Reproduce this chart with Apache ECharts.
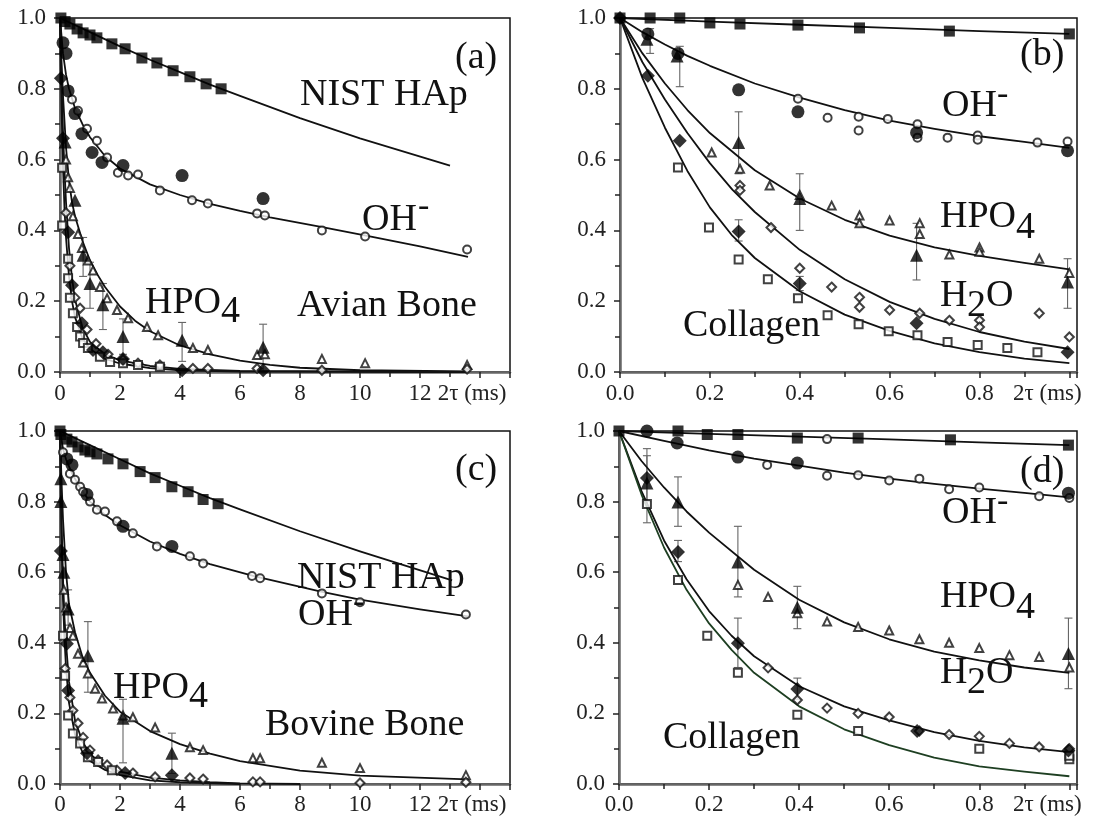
<!DOCTYPE html>
<html><head><meta charset="utf-8">
<script src="https://cdn.jsdelivr.net/npm/echarts@6/dist/echarts.min.js"></script>
<style>html,body{margin:0;padding:0;background:#fff}#c{width:1094px;height:821px}</style>
</head><body><div id="c"></div>
<script>
// ---------------- DATA ----------------
const X_UNIT = '2τ (ms)';
// Panel (a) Avian bone, long range
const A_NIST_PTS = [[0.03,1.0],[0.17,0.99],[0.33,0.983],[0.57,0.969],[0.77,0.958],[1.0,0.952],[1.23,0.944],[1.73,0.927],[2.17,0.913],[2.73,0.887],[3.23,0.873],[3.77,0.851],[4.33,0.834],[4.87,0.814],[5.37,0.8]];
const A_NIST_FIT = [[0,1.0],[1,0.96],[2,0.92],[3,0.882],[4,0.847],[5,0.812],[6,0.78],[8,0.717],[10,0.66],[13,0.583]];
const A_OH_FILLED = [[0.1,0.93],[0.2,0.9],[0.27,0.794],[0.5,0.73],[0.73,0.673],[1.07,0.62],[1.4,0.592],[2.1,0.583],[4.07,0.555],[6.77,0.49]];
const A_OH_OPEN = [[0.4,0.77],[0.6,0.738],[0.9,0.687],[1.23,0.653],[1.57,0.606],[1.93,0.563],[2.27,0.555],[2.6,0.558],[3.33,0.513],[4.4,0.485],[4.93,0.476],[6.57,0.448],[6.83,0.442],[8.73,0.4],[10.17,0.383],[13.57,0.346]];
const A_OH_FIT = [[0,1.0],[0.1,0.9],[0.2,0.84],[0.3,0.8],[0.5,0.745],[0.75,0.7],[1,0.663],[1.5,0.61],[2,0.575],[3,0.53],[4,0.5],[5,0.475],[6,0.455],[7,0.437],[8.7,0.41],[10.2,0.385],[12,0.355],[13.6,0.325]];
const A_HPO_FILLED = [[0.17,0.65],[0.5,0.485],[0.77,0.33],[1.0,0.25],[1.43,0.19],[2.1,0.1],[4.07,0.09],[6.77,0.07]];
const A_HPO_OPEN = [[0.2,0.6],[0.27,0.55],[0.33,0.52],[0.43,0.44],[0.6,0.39],[0.73,0.35],[0.93,0.315],[1.1,0.287],[1.33,0.24],[1.57,0.208],[1.9,0.175],[2.27,0.152],[2.9,0.127],[3.27,0.104],[4.43,0.068],[4.93,0.062],[6.57,0.048],[6.83,0.05],[8.73,0.037],[10.17,0.025],[13.57,0.02]];
const A_HPO_FIT = [[0,1.0],[0.05,0.88],[0.1,0.78],[0.2,0.635],[0.3,0.54],[0.4,0.48],[0.5,0.44],[0.75,0.37],[1,0.315],[1.25,0.275],[1.5,0.24],[2,0.185],[2.5,0.145],[3,0.115],[4,0.075],[5,0.05],[6,0.032],[7,0.02],[8,0.012],[10,0.005],[13.6,0.002]];
const A_HPO_ERR = [[0.77,0.27,0.38],[1.0,0.18,0.31],[1.43,0.12,0.25],[2.1,0.05,0.15],[4.07,0.03,0.14],[6.77,0.0,0.135]];
const A_H2O_FILLED = [[0.03,0.83],[0.1,0.66],[0.27,0.395],[0.4,0.245],[0.73,0.138],[1.1,0.062],[1.43,0.056],[2.1,0.037],[4.07,0.005],[6.77,0.005]];
const A_H2O_OPEN = [[0.2,0.45],[0.33,0.3],[0.5,0.21],[0.67,0.18],[0.9,0.12],[1.2,0.08],[1.6,0.05],[2.1,0.035],[2.6,0.025],[3.33,0.02],[4.43,0.01],[4.93,0.01],[6.57,0.01],[8.73,0.005],[13.57,0.008]];
const A_COL_OPEN = [[0.07,0.577],[0.07,0.414],[0.27,0.32],[0.27,0.265],[0.33,0.21],[0.43,0.166],[0.57,0.127],[0.67,0.1],[0.77,0.082],[0.93,0.068],[1.33,0.043],[1.67,0.028],[2.1,0.025],[2.6,0.02],[3.33,0.015]];
const A_H2O_FIT = [[0,1.0],[0.05,0.82],[0.1,0.68],[0.15,0.57],[0.2,0.48],[0.3,0.35],[0.4,0.265],[0.5,0.205],[0.75,0.125],[1,0.085],[1.5,0.05],[2,0.033],[3,0.017],[4,0.009],[6,0.003],[13.6,0.0]];
const A_COL_FIT = [[0,1.0],[0.05,0.75],[0.1,0.58],[0.15,0.46],[0.2,0.38],[0.3,0.27],[0.4,0.2],[0.5,0.155],[0.75,0.095],[1,0.065],[1.5,0.037],[2,0.024],[3,0.011],[4,0.005],[6,0.001],[13.6,0.0]];

// Panel (b) Avian bone, short range
const B_NIST_PTS = [[0,1.0],[0.067,1.0],[0.133,1.0],[0.2,0.986],[0.267,0.983],[0.396,0.98],[0.533,0.972],[0.733,0.963],[1.0,0.955]];
const B_NIST_FIT = [[0,1.0],[0.2,0.99],[0.4,0.981],[0.6,0.972],[0.8,0.963],[1.0,0.955]];
const B_OH_FILLED = [[0.062,0.955],[0.129,0.9],[0.264,0.797],[0.396,0.735],[0.66,0.676],[0.996,0.625]];
const B_OH_OPEN = [[0.396,0.772],[0.462,0.718],[0.531,0.721],[0.531,0.682],[0.596,0.715],[0.662,0.70],[0.662,0.662],[0.729,0.662],[0.796,0.668],[0.796,0.656],[0.929,0.648],[0.996,0.651]];
const B_OH_FIT = [[0,1.0],[0.05,0.96],[0.1,0.925],[0.15,0.893],[0.2,0.865],[0.3,0.815],[0.4,0.775],[0.5,0.74],[0.6,0.71],[0.7,0.687],[0.8,0.666],[0.9,0.65],[1.0,0.633]];
const B_OH_ERR = [[0.067,0.9,0.97],[0.133,0.806,0.92]];
const B_HPO_FILLED = [[0.06,0.94],[0.127,0.893],[0.264,0.648],[0.4,0.49],[0.66,0.33],[0.996,0.254]];
const B_HPO_OPEN = [[0.204,0.62],[0.267,0.574],[0.333,0.527],[0.4,0.5],[0.471,0.47],[0.533,0.442],[0.533,0.42],[0.6,0.428],[0.667,0.42],[0.667,0.39],[0.733,0.332],[0.8,0.352],[0.8,0.34],[0.933,0.32],[1.0,0.28]];
const B_HPO_FIT = [[0,1.0],[0.05,0.9],[0.1,0.815],[0.15,0.74],[0.2,0.675],[0.3,0.57],[0.4,0.49],[0.5,0.43],[0.6,0.385],[0.7,0.352],[0.8,0.328],[0.9,0.308],[1.0,0.29]];
const B_HPO_ERR = [[0.264,0.56,0.735],[0.4,0.40,0.56],[0.66,0.26,0.42],[0.996,0.18,0.32]];
const B_H2O_FILLED = [[0,1.0],[0.062,0.837],[0.133,0.653],[0.264,0.397],[0.4,0.25],[0.66,0.138],[0.996,0.056]];
const B_H2O_OPEN = [[0.267,0.527],[0.267,0.513],[0.336,0.408],[0.4,0.293],[0.471,0.24],[0.533,0.211],[0.533,0.183],[0.6,0.175],[0.667,0.166],[0.733,0.146],[0.8,0.146],[0.8,0.127],[0.933,0.166],[1.0,0.099]];
const B_H2O_FIT = [[0,1.0],[0.05,0.875],[0.1,0.77],[0.15,0.675],[0.2,0.59],[0.25,0.515],[0.3,0.452],[0.4,0.345],[0.5,0.262],[0.6,0.198],[0.7,0.15],[0.8,0.113],[0.9,0.086],[1.0,0.065]];
const B_H2O_ERR = [[0.264,0.37,0.43],[0.4,0.23,0.27]];
const B_COL_OPEN = [[0.129,0.578],[0.198,0.408],[0.264,0.318],[0.329,0.262],[0.396,0.208],[0.462,0.16],[0.531,0.135],[0.598,0.115],[0.662,0.104],[0.729,0.085],[0.796,0.076],[0.862,0.068],[0.929,0.056]];
const B_COL_FIT = [[0,1.0],[0.05,0.83],[0.1,0.69],[0.15,0.568],[0.2,0.465],[0.25,0.385],[0.3,0.322],[0.4,0.228],[0.5,0.162],[0.6,0.116],[0.7,0.081],[0.8,0.056],[0.9,0.038],[1.0,0.025]];

// Panel (c) Bovine bone, long range
const C_NIST_PTS = [[0,1.0],[0.03,0.99],[0.23,0.977],[0.4,0.969],[0.6,0.955],[0.83,0.946],[1.0,0.941],[1.23,0.935],[1.6,0.921],[2.1,0.907],[2.67,0.885],[3.17,0.868],[3.73,0.842],[4.27,0.828],[4.77,0.806],[5.27,0.794]];
const C_NIST_FIT = [[0,1.0],[1,0.96],[2,0.92],[3,0.88],[4,0.845],[5,0.81],[6,0.778],[8,0.716],[10,0.659],[13.07,0.577]];
const C_OH_FILLED = [[0.23,0.921],[0.4,0.904],[0.9,0.82],[2.1,0.73],[3.73,0.673]];
const C_OH_OPEN = [[0.1,0.94],[0.33,0.879],[0.5,0.862],[0.67,0.842],[0.77,0.828],[1.0,0.8],[1.23,0.777],[1.5,0.772],[1.9,0.744],[2.43,0.71],[3.23,0.673],[4.33,0.645],[4.77,0.625],[6.4,0.589],[6.67,0.583],[8.73,0.54],[10.0,0.515],[13.53,0.48]];
const C_OH_FIT = [[0,1.0],[0.1,0.95],[0.2,0.92],[0.4,0.88],[0.7,0.835],[1,0.8],[1.5,0.762],[2,0.733],[3,0.687],[4,0.652],[5,0.623],[6.5,0.588],[8.7,0.545],[10,0.522],[12,0.495],[13.6,0.475]];
const C_HPO_FILLED = [[0.03,0.865],[0.03,0.8],[0.1,0.65],[0.13,0.6],[0.27,0.496],[0.93,0.363],[2.1,0.186],[3.73,0.087]];
const C_HPO_OPEN = [[0.13,0.55],[0.2,0.5],[0.33,0.442],[0.43,0.42],[0.6,0.369],[0.77,0.344],[0.93,0.313],[1.17,0.27],[1.4,0.242],[1.77,0.214],[2.1,0.194],[2.43,0.189],[3.17,0.16],[4.33,0.104],[4.77,0.096],[6.43,0.073],[6.67,0.073],[8.73,0.06],[10.0,0.045],[13.53,0.025]];
const C_HPO_FIT = [[0,1.0],[0.05,0.86],[0.1,0.75],[0.2,0.6],[0.3,0.51],[0.5,0.43],[0.75,0.36],[1,0.315],[1.5,0.25],[2,0.205],[3,0.15],[4,0.113],[5,0.086],[6,0.065],[8,0.038],[10,0.024],[13.6,0.013]];
const C_HPO_ERR = [[0.27,0.45,0.55],[0.93,0.26,0.46],[2.1,0.06,0.24],[3.73,0.03,0.144]];
const C_H2O_FILLED = [[0.03,0.66],[0.23,0.397],[0.27,0.265],[0.9,0.087],[2.17,0.031],[3.73,0.025]];
const C_H2O_OPEN = [[0.17,0.327],[0.33,0.245],[0.43,0.208],[0.6,0.172],[0.77,0.132],[1.0,0.096],[1.27,0.068],[1.57,0.054],[1.9,0.039],[2.43,0.031],[3.17,0.02],[4.33,0.017],[4.77,0.014],[6.43,0.006],[6.67,0.006],[10.0,0.003],[13.53,0.005]];
const C_COL_OPEN = [[0.1,0.42],[0.17,0.307],[0.27,0.194],[0.43,0.143],[0.67,0.115],[0.93,0.076],[1.27,0.062],[1.73,0.039]];
const C_H2O_FIT = [[0,1.0],[0.05,0.75],[0.1,0.58],[0.15,0.47],[0.2,0.4],[0.3,0.29],[0.5,0.18],[0.75,0.12],[1,0.085],[1.5,0.05],[2,0.035],[3,0.018],[4,0.01],[5,0.005],[6,0.002],[8,0.0]];
const C_COL_FIT = [[0,1.0],[0.05,0.7],[0.1,0.52],[0.15,0.41],[0.2,0.33],[0.3,0.23],[0.5,0.14],[0.75,0.09],[1,0.065],[1.5,0.04],[2,0.025],[3,0.01],[4,0.005],[6,0.0]];

// Panel (d) Bovine bone, short range
const D_NIST_PTS = [[0,1.0],[0.131,1.0],[0.196,0.99],[0.264,0.99],[0.396,0.98],[0.531,0.98],[0.736,0.975],[0.998,0.96]];
const D_NIST_FIT = [[0,1.0],[0.2,0.992],[0.4,0.984],[0.6,0.976],[0.8,0.968],[1.0,0.96]];
const D_OH_FILLED = [[0.062,1.0],[0.129,0.966],[0.264,0.926],[0.396,0.909],[0.998,0.824]];
const D_OH_OPEN = [[0.462,0.977],[0.329,0.904],[0.462,0.873],[0.531,0.875],[0.6,0.86],[0.667,0.865],[0.733,0.835],[0.8,0.84],[0.933,0.815],[1.0,0.81]];
const D_OH_FIT = [[0,1.0],[0.1,0.972],[0.2,0.945],[0.3,0.922],[0.4,0.902],[0.5,0.882],[0.6,0.865],[0.7,0.85],[0.8,0.837],[0.9,0.825],[1.0,0.812]];
const D_HPO_FILLED = [[0.062,0.853],[0.131,0.799],[0.264,0.629],[0.396,0.501],[0.998,0.37]];
const D_HPO_OPEN = [[0.264,0.564],[0.331,0.53],[0.396,0.484],[0.462,0.46],[0.531,0.445],[0.6,0.435],[0.667,0.41],[0.733,0.4],[0.8,0.385],[0.867,0.365],[0.933,0.36],[1.0,0.33]];
const D_HPO_FIT = [[0,1.0],[0.05,0.915],[0.1,0.84],[0.15,0.772],[0.2,0.712],[0.3,0.607],[0.4,0.522],[0.5,0.458],[0.6,0.41],[0.7,0.375],[0.8,0.35],[0.9,0.33],[1.0,0.315]];
const D_HPO_ERR = [[0.062,0.74,0.95],[0.131,0.73,0.87],[0.264,0.53,0.73],[0.396,0.44,0.56],[0.998,0.27,0.47]];
const D_H2O_FILLED = [[0.062,0.867],[0.131,0.657],[0.264,0.399],[0.396,0.269],[0.662,0.15],[0.998,0.095]];
const D_H2O_OPEN = [[0.331,0.329],[0.396,0.238],[0.462,0.215],[0.531,0.2],[0.6,0.19],[0.667,0.15],[0.733,0.14],[0.8,0.135],[0.867,0.115],[0.933,0.105],[1.0,0.1]];
const D_H2O_ERR = [[0.062,0.8,0.93],[0.131,0.63,0.69],[0.264,0.33,0.47],[0.396,0.24,0.3]];
const D_COL_OPEN = [[0.062,0.793],[0.131,0.578],[0.196,0.42],[0.264,0.315],[0.396,0.196],[0.531,0.15],[0.8,0.1],[1.0,0.07],[1.0,0.08]];
const D_H2O_FIT = [[0,1.0],[0.05,0.83],[0.1,0.69],[0.15,0.58],[0.2,0.49],[0.25,0.42],[0.3,0.362],[0.4,0.277],[0.5,0.22],[0.6,0.18],[0.7,0.147],[0.8,0.122],[0.9,0.104],[1.0,0.09]];
const D_COL_FIT = [[0,1.0],[0.05,0.82],[0.1,0.67],[0.15,0.55],[0.2,0.455],[0.25,0.38],[0.3,0.315],[0.4,0.22],[0.5,0.155],[0.6,0.11],[0.7,0.075],[0.8,0.05],[0.9,0.035],[1.0,0.022]];

// ---------------- CHART ----------------
const FONT = '"Liberation Serif", "Times New Roman", serif';
const chart = echarts.init(document.getElementById('c'), null, {renderer: 'canvas'});

const grids = [
  {left: 60, top: 18, width: 450, height: 354},
  {left: 620, top: 18, width: 457, height: 354},
  {left: 60, top: 431, width: 450, height: 353},
  {left: 619, top: 431, width: 458, height: 353}
].map(g => Object.assign({show: true, borderColor: '#111', borderWidth: 1.5, backgroundColor: 'transparent'}, g));

const XCFG = [
  {max: 15, step: 2, top: 1, last: 14, pad: 16, dec: 0, margin: 10},
  {max: 1.017, step: 0.2, top: 0.1, last: 1.0, pad: 44, dec: 1, margin: 10},
  {max: 15, step: 2, top: 1, last: 14, pad: 16, dec: 0, margin: 9},
  {max: 1.017, step: 0.2, top: 0.1, last: 1.0, pad: 44, dec: 1, margin: 9}
];

const tickStyle = {color: '#222', width: 1.5};
const xAxes = [], yAxes = [];
XCFG.forEach((c, i) => {
  xAxes.push({
    type: 'value', gridIndex: i, position: 'bottom', min: 0, max: c.max, interval: c.step,
    axisLine: {show: true, onZero: false, lineStyle: {color: '#666', width: 2.5}},
    axisTick: {show: true, inside: false, length: 6, lineStyle: tickStyle},
    minorTick: {show: true, splitNumber: 2, length: 4, lineStyle: tickStyle},
    splitLine: {show: false}, minorSplitLine: {show: false},
    axisLabel: {
      fontFamily: FONT, fontSize: 23, color: '#222', margin: c.margin,
      formatter: v => Math.abs(v - c.last) < 1e-6 ? '{u|' + X_UNIT + '}' : v.toFixed(c.dec),
      rich: {u: {fontFamily: FONT, fontSize: 23, color: '#222', padding: [0, c.pad, 0, 0]}}
    }
  });
  yAxes.push({
    type: 'value', gridIndex: i, position: 'left', min: 0, max: 1, interval: 0.2,
    axisLine: {show: true, onZero: false, lineStyle: {color: '#666', width: 2.5}},
    axisTick: {show: true, inside: false, length: 6, lineStyle: tickStyle},
    minorTick: {show: true, splitNumber: 2, length: 4, lineStyle: tickStyle},
    splitLine: {show: false}, minorSplitLine: {show: false},
    axisLabel: {fontFamily: FONT, fontSize: 23, color: '#222', margin: 14, formatter: v => v.toFixed(1)}
  });
});
XCFG.forEach((c, i) => {
  xAxes.push({
    type: 'value', gridIndex: i, position: 'top', min: 0, max: c.max, interval: c.top,
    axisLine: {show: false}, axisTick: {show: true, inside: true, length: 5, lineStyle: tickStyle},
    axisLabel: {show: false}, splitLine: {show: false}
  });
  yAxes.push({
    type: 'value', gridIndex: i, position: 'right', min: 0, max: 1, interval: 0.1,
    axisLine: {show: false}, axisTick: {show: true, inside: true, length: 5, lineStyle: tickStyle},
    axisLabel: {show: false}, splitLine: {show: false}
  });
});

const series = [];
function fit(gi, data, color) {
  series.push({type: 'line', xAxisIndex: gi, yAxisIndex: gi, data, smooth: false,
    showSymbol: false, symbol: 'none', lineStyle: {color: color || '#111', width: 1.8, join: 'round'}, z: 2, silent: true});
}
function pts(gi, data, symbol, size) {
  const empty = symbol.indexOf('empty') === 0;
  series.push({type: 'scatter', xAxisIndex: gi, yAxisIndex: gi, data, symbol, symbolSize: size, clip: false,
    itemStyle: empty ? {color: '#111', borderColor: '#111', borderWidth: 1.4} : {color: '#000'}, z: empty ? 3 : 4, silent: true});
}
function err(gi, data) {
  series.push({type: 'custom', xAxisIndex: gi, yAxisIndex: gi, data, z: 1, silent: true,
    encode: {x: 0, y: [1, 2]},
    renderItem: (params, api) => {
      const x = api.value(0), p1 = api.coord([x, api.value(1)]), p2 = api.coord([x, api.value(2)]);
      const w = 4, st = {stroke: '#666', lineWidth: 1.1};
      return {type: 'group', children: [
        {type: 'line', shape: {x1: p1[0], y1: p1[1], x2: p2[0], y2: p2[1]}, style: st},
        {type: 'line', shape: {x1: p1[0] - w, y1: p1[1], x2: p1[0] + w, y2: p1[1]}, style: st},
        {type: 'line', shape: {x1: p2[0] - w, y1: p2[1], x2: p2[0] + w, y2: p2[1]}, style: st}
      ]};
    }});
}

const FS = 11, OS = 8;
// (a)
fit(0, A_NIST_FIT); fit(0, A_OH_FIT); fit(0, A_HPO_FIT); fit(0, A_H2O_FIT); fit(0, A_COL_FIT);
err(0, A_HPO_ERR);
pts(0, A_OH_OPEN, 'emptyCircle', OS); pts(0, A_HPO_OPEN, 'emptyTriangle', OS); pts(0, A_H2O_OPEN, 'emptyDiamond', OS + 1); pts(0, A_COL_OPEN, 'emptyRect', OS);
pts(0, A_NIST_PTS, 'rect', FS); pts(0, A_OH_FILLED, 'circle', FS + 2); pts(0, A_HPO_FILLED, 'triangle', FS + 2); pts(0, A_H2O_FILLED, 'diamond', FS + 3);
// (b)
fit(1, B_NIST_FIT); fit(1, B_OH_FIT); fit(1, B_HPO_FIT); fit(1, B_H2O_FIT); fit(1, B_COL_FIT);
err(1, B_OH_ERR); err(1, B_HPO_ERR); err(1, B_H2O_ERR);
pts(1, B_OH_OPEN, 'emptyCircle', OS); pts(1, B_HPO_OPEN, 'emptyTriangle', OS); pts(1, B_H2O_OPEN, 'emptyDiamond', OS + 1); pts(1, B_COL_OPEN, 'emptyRect', OS);
pts(1, B_NIST_PTS, 'rect', FS); pts(1, B_OH_FILLED, 'circle', FS + 2); pts(1, B_HPO_FILLED, 'triangle', FS + 2); pts(1, B_H2O_FILLED, 'diamond', FS + 3);
// (c)
fit(2, C_NIST_FIT); fit(2, C_OH_FIT); fit(2, C_HPO_FIT); fit(2, C_H2O_FIT); fit(2, C_COL_FIT);
err(2, C_HPO_ERR);
pts(2, C_OH_OPEN, 'emptyCircle', OS); pts(2, C_HPO_OPEN, 'emptyTriangle', OS); pts(2, C_H2O_OPEN, 'emptyDiamond', OS + 1); pts(2, C_COL_OPEN, 'emptyRect', OS);
pts(2, C_NIST_PTS, 'rect', FS); pts(2, C_OH_FILLED, 'circle', FS + 2); pts(2, C_HPO_FILLED, 'triangle', FS + 2); pts(2, C_H2O_FILLED, 'diamond', FS + 3);
// (d)
fit(3, D_NIST_FIT); fit(3, D_OH_FIT); fit(3, D_HPO_FIT); fit(3, D_H2O_FIT); fit(3, D_COL_FIT, '#1e3f22');
err(3, D_HPO_ERR); err(3, D_H2O_ERR);
pts(3, D_OH_OPEN, 'emptyCircle', OS); pts(3, D_HPO_OPEN, 'emptyTriangle', OS); pts(3, D_H2O_OPEN, 'emptyDiamond', OS + 1); pts(3, D_COL_OPEN, 'emptyRect', OS);
pts(3, D_NIST_PTS, 'rect', FS); pts(3, D_OH_FILLED, 'circle', FS + 2); pts(3, D_HPO_FILLED, 'triangle', FS + 2); pts(3, D_H2O_FILLED, 'diamond', FS + 3);

// annotation texts
function t(text, x, y, size) {
  return {type: 'text', x, y, z: 10, silent: true,
    style: {text, font: (size || 38) + 'px ' + FONT, fill: '#111', align: 'left', verticalAlign: 'middle'}};
}
const graphic = [
  // (a)
  t('(a)', 455, 58), t('NIST HAp', 300, 95),
  t('OH', 362, 220), t('-', 418, 207, 34),
  t('HPO', 145, 303), t('4', 221, 312),
  t('Avian Bone', 297, 306),
  // (b)
  t('(b)', 1020, 55),
  t('OH', 942, 106), t('-', 997, 95, 34),
  t('HPO', 940, 217), t('4', 1016, 228),
  t('H', 940, 296), t('2', 967, 306), t('O', 986, 296),
  t('Collagen', 683, 326),
  // (c)
  t('(c)', 455, 470), t('NIST HAp', 297, 578),
  t('OH', 298, 615), t('-', 353, 603, 34),
  t('HPO', 113, 688), t('4', 189, 697),
  t('Bovine Bone', 265, 725),
  // (d)
  t('(d)', 1020, 472),
  t('OH', 942, 513), t('-', 997, 502, 34),
  t('HPO', 940, 597), t('4', 1016, 608),
  t('H', 940, 673), t('2', 967, 683), t('O', 986, 673),
  t('Collagen', 663, 738)
];

chart.setOption({
  animation: false,
  backgroundColor: '#fff',
  grid: grids,
  xAxis: xAxes,
  yAxis: yAxes,
  series,
  graphic
});
</script>
</body></html>
